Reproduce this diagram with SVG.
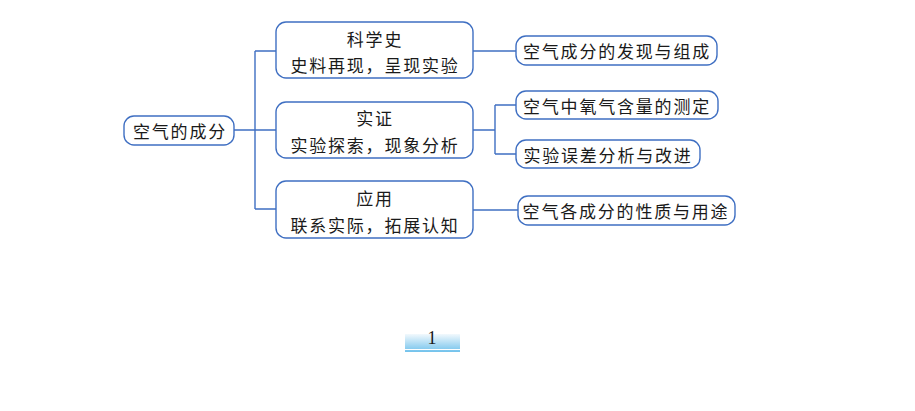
<svg xmlns="http://www.w3.org/2000/svg" width="915" height="411" viewBox="0 0 915 411">
<style>
.box{fill:#ffffff;stroke:#3f6fc2;stroke-width:1.4}
.ln{fill:none;stroke:#3f6fc2;stroke-width:1.4}
.t{font-family:"Noto Sans CJK SC","Noto Sans CJK JP",sans-serif;font-size:17px;fill:#1a1a1a;text-anchor:middle;dominant-baseline:central;letter-spacing:1.8px}
</style>
<defs>
<linearGradient id="pg" x1="0" y1="0" x2="0" y2="1">
<stop offset="0" stop-color="#f2f9fd"/>
<stop offset="1" stop-color="#72c2ec"/>
</linearGradient>
</defs>
<rect width="915" height="411" fill="#ffffff"/>
<g id="connectors">
<path class="ln" d="M234,130 H255 M255,51 V209 M255,51 H276 M255,130 H276 M255,209 H276"/>
<path class="ln" d="M473,51 H516"/>
<path class="ln" d="M473,130 H495 M495,105 V154 M495,105 H516 M495,154 H516"/>
<path class="ln" d="M473,210 H518"/>
</g>
<g id="root">
<rect class="box" x="124" y="116" width="110" height="29" rx="10"/>
<text class="t" x="180" y="130">空气的成分</text>
</g>
<g id="b1">
<rect class="box" x="276" y="22" width="197" height="56" rx="10"/>
<text class="t" x="375" y="38">科学史</text>
<text class="t" x="375" y="64">史料再现，呈现实验</text>
</g>
<g id="b2">
<rect class="box" x="276" y="102" width="197" height="56" rx="10"/>
<text class="t" x="375" y="117">实证</text>
<text class="t" x="375" y="144">实验探索，现象分析</text>
</g>
<g id="b3">
<rect class="box" x="276" y="181" width="197" height="57" rx="10"/>
<text class="t" x="375" y="197">应用</text>
<text class="t" x="375" y="224">联系实际，拓展认知</text>
</g>
<g id="l1">
<rect class="box" x="516" y="36" width="201" height="29" rx="10"/>
<text class="t" x="617" y="50">空气成分的发现与组成</text>
</g>
<g id="l2">
<rect class="box" x="516" y="91" width="202" height="28" rx="10"/>
<text class="t" x="617" y="105">空气中氧气含量的测定</text>
</g>
<g id="l3">
<rect class="box" x="516" y="140" width="184" height="28" rx="10"/>
<text class="t" x="608" y="154">实验误差分析与改进</text>
</g>
<g id="l4">
<rect class="box" x="518" y="196" width="217" height="29" rx="10"/>
<text class="t" x="626" y="210">空气各成分的性质与用途</text>
</g>
<g id="page">
<rect x="405" y="334" width="55" height="18" fill="url(#pg)"/>
<line x1="405" y1="349.5" x2="460" y2="349.5" stroke="#ffffff" stroke-width="1.2"/>
<text x="432" y="344" font-family="Liberation Serif,serif" font-size="18" fill="#1a1a1a" text-anchor="middle">1</text>
</g>
</svg>
